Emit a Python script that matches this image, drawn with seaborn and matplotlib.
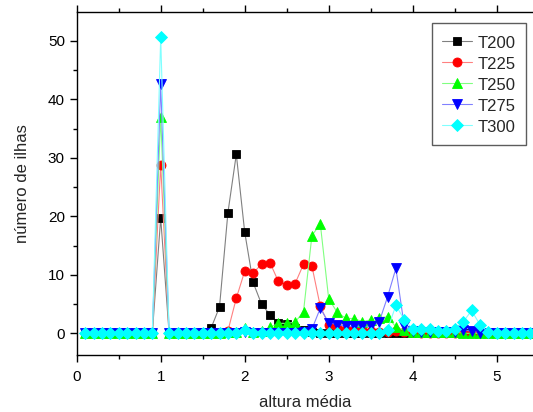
import numpy as np
import pandas as pd
import matplotlib
matplotlib.use("Agg")
import matplotlib.pyplot as plt
import seaborn as sns
from matplotlib.ticker import MultipleLocator

# x grid (altura média), step 0.1
x_vals = np.round(np.arange(1, 55) * 0.1, 1)

series_names = ["T200", "T225", "T250", "T275", "T300"]

T200 = [0] * 9 + [19.7] + [0] * 4 + [0.2, 0.9, 4.5, 20.6, 30.6, 17.3, 8.7, 5.0, 3.2, 1.7, 1.6, 0.9, 0.5, 0.2] + [0] * 26
T225 = [0] * 9 + [28.8] + [0] * 6 + [0.1, 0.4, 6.0, 10.6, 10.3, 11.8, 12.1, 8.9, 8.3, 8.5, 11.8, 11.5, 4.6, 1.5, 1.0, 0.8, 0.6, 0.5, 0.4, 0.3, 0.3, 0.4, 0.3, 0.2] + [0] * 14
T250 = [0] * 9 + [37.0] + [0] * 7 + [0.2, 0.3, 0.9, 0.3, 0.4, 1.0, 1.7, 1.7, 1.9, 3.7, 16.7, 18.7, 5.9, 3.6, 2.6, 2.5, 2.0, 2.3, 2.7, 2.8, 1.1, 0.5, 0.3, 0.2, 0.2, 0.2, 0.2, 0.2] + [0] * 9
T275 = [0] * 9 + [42.6] + [0] * 9 + [0.2] + [0] * 6 + [0.3, 0.7, 4.3, 1.8, 1.5, 1.2, 1.2, 1.2, 1.2, 1.9, 6.2, 11.1, 1.2, 0.4, 0.3, 0.3, 0.3, 0.3, 0.3, 0.5, 0.4, 0.1] + [0] * 6
T300 = [0] * 9 + [50.6] + [0] * 9 + [0.6] + [0] * 16 + [0.6, 4.8, 2.3, 0.7, 0.7, 0.7, 0.4, 0.4, 0.7, 1.9, 3.9, 1.5, 0.2] + [0] * 5

values = [T200, T225, T250, T275, T300]

x_ticks = [0, 1, 2, 3, 4, 5]
y_ticks = [0, 10, 20, 30, 40, 50]

marker_colors = ["#000000", "#ff0000", "#00ff00", "#0000ff", "#00ffff"]
line_colors = ["#808080", "#ff8080", "#80ff80", "#8080ff", "#80ffff"]
marker_styles = ["s", "o", "^", "v", "D"]
marker_sizes = [5.5, 6.5, 7, 7, 6]

df = pd.concat(
    [pd.DataFrame({"x": x_vals, "y": v, "serie": n}) for n, v in zip(series_names, values)],
    ignore_index=True,
)

sns.set_style("ticks")
plt.rcParams["font.family"] = ["Liberation Sans", "DejaVu Sans"]

fig = plt.figure(figsize=(5.33, 4.12), dpi=100)
ax = fig.add_axes([76.7 / 533, 1 - 355 / 412, 1 - 76.7 / 533, (355 - 11.7) / 412])

sns.lineplot(
    data=df, x="x", y="y", hue="serie", style="serie",
    palette=dict(zip(series_names, marker_colors)),
    markers=dict(zip(series_names, marker_styles)),
    dashes=False, legend=False, ax=ax, linewidth=0.8,
)

for line, mc, lc, ms in zip(ax.lines, marker_colors, line_colors, marker_sizes):
    line.set_color(lc)
    line.set_markerfacecolor(mc)
    line.set_markeredgecolor(mc)
    line.set_markersize(ms)
    line.set_markeredgewidth(0.6)

ax.set_xlim(0, (533 - 76.7) / 84)
ax.set_ylim(-(355 - 333.3) / 5.85, (333.3 - 11.7) / 5.85)
ax.set_xticks(x_ticks)
ax.set_yticks(y_ticks)
ax.xaxis.set_minor_locator(MultipleLocator(0.5))
ax.yaxis.set_minor_locator(MultipleLocator(5))
ax.tick_params(axis="both", which="major", direction="out", length=5, width=1,
               labelsize=11, color="black", labelcolor="black")
ax.tick_params(axis="both", which="minor", direction="out", length=3, width=1, color="black")
ax.tick_params(axis="x", which="major", pad=6)
ax.tick_params(axis="x", which="both", top=True, labeltop=False)
ax.tick_params(axis="y", which="both", right=False)

for s in ["left", "bottom", "top"]:
    ax.spines[s].set_visible(True)
    ax.spines[s].set_color("black")
    ax.spines[s].set_linewidth(1.0)
ax.spines["right"].set_visible(False)

ax.set_xlabel("altura média", fontsize=12, labelpad=8)
ax.set_ylabel("número de ilhas", fontsize=12, labelpad=13)

leg = ax.legend(
    ax.lines, series_names, loc="upper left",
    bbox_to_anchor=(431.7 / 533, 1 - 23.3 / 412), bbox_transform=fig.transFigure,
    borderaxespad=0, fancybox=False, frameon=True, fontsize=12,
    handlelength=1.8, handleheight=1.15, labelspacing=0.245,
    handletextpad=0.3, borderpad=0.63,
)
leg.get_frame().set_edgecolor("#333333")
leg.get_frame().set_linewidth(1.0)

fig.savefig("out.png", dpi=100)
